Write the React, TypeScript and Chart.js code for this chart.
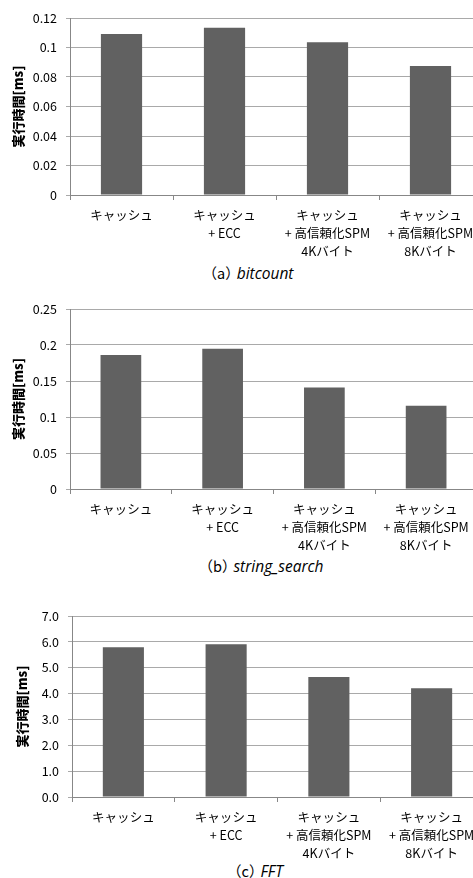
import React, { useEffect, useRef } from "react";
import { Chart, registerables } from "chart.js";

Chart.register(...registerables);

// Category labels (multi-line) shared by all three benchmarks
const categories: string[][] = [
  ["キャッシュ"],
  ["キャッシュ", "+ ECC"],
  ["キャッシュ", "+ 高信頼化SPM", "4Kバイト"],
  ["キャッシュ", "+ 高信頼化SPM", "8Kバイト"],
];

// Execution time [ms] per configuration
const bitcountTimes = [0.1092, 0.1134, 0.1035, 0.0875];
const stringSearchTimes = [0.186, 0.1949, 0.141, 0.1157];
const fftTimes = [5.79, 5.91, 4.64, 4.21];

// Y axis ranges: [max, step, decimals]
const bitcountAxis = [0.12, 0.02, -1];
const stringSearchAxis = [0.25, 0.05, -1];
const fftAxis = [7, 1, 1];

const yTitle = "実行時間[ms]";
const captionLetters = ["（a）", "（b）", "（c）"];
const captionNames = ["bitcount", "string_search", "FFT"];

const JP = '"Noto Sans CJK JP", "Noto Sans", sans-serif';
const BAR = "#616161";
const GRID = "#a9a9a9";
const AXIS = "#878787";

type PanelProps = {
  top: number;
  height: number;
  areaTop: number;
  areaBottom: number;
  areaLeft: number;
  areaRight: number;
  titlePad: number;
  values: number[];
  axis: number[];
  caption: number;
  captionX: number;
  captionY: number;
};

const CANVAS_W = 500;

function Panel(p: PanelProps) {
  const ref = useRef<HTMLCanvasElement | null>(null);

  useEffect(() => {
    if (!ref.current) return;
    const [max, step, decimals] = p.axis;
    const chart = new Chart(ref.current, {
      type: "bar",
      data: {
        labels: categories,
        datasets: [
          {
            data: p.values,
            backgroundColor: BAR,
            borderWidth: 0,
            categoryPercentage: 1,
            barPercentage: 0.4,
          },
        ],
      },
      options: {
        responsive: false,
        animation: false,
        devicePixelRatio: 1,
        layout: {
          padding: {
            top: p.areaTop,
            left: 0,
            right: CANVAS_W - p.areaRight,
            bottom: 0,
          },
        },
        plugins: {
          legend: { display: false },
          tooltip: { enabled: false },
          title: { display: false },
        },
        scales: {
          x: {
            offset: true,
            grid: {
              display: true,
              offset: true,
              drawOnChartArea: false,
              drawTicks: true,
              tickLength: 5,
              color: AXIS,
            },
            border: { display: true, color: AXIS, width: 1 },
            ticks: {
              color: "#000",
              font: { family: JP, size: 12.5, lineHeight: 1.45 },
              padding: 6,
              maxRotation: 0,
              minRotation: 0,
              autoSkip: false,
            },
            afterFit: (s: any) => {
              s.height = p.height - p.areaBottom;
            },
          },
          y: {
            min: 0,
            max,
            grid: {
              color: GRID,
              drawTicks: true,
              tickLength: 4,
              tickColor: GRID,
            },
            border: { display: true, color: AXIS, width: 1 },
            ticks: {
              stepSize: step,
              color: "#000",
              font: { family: JP, size: 12.5 },
              padding: 9,
              callback: (v: any) =>
                decimals >= 0
                  ? Number(v).toFixed(decimals)
                  : String(Number(Number(v).toFixed(4))),
            },
            title: {
              display: true,
              text: yTitle,
              color: "#000",
              font: { family: JP, size: 13, weight: "900" },
              padding: { top: p.titlePad, bottom: 0 },
            },
            afterFit: (s: any) => {
              s.width = p.areaLeft;
            },
          },
        },
      },
    });
    return () => chart.destroy();
  }, []);

  return (
    <>
      <canvas
        ref={ref}
        width={CANVAS_W}
        height={p.height}
        style={{
          position: "absolute",
          left: 0,
          top: p.top,
          width: CANVAS_W,
          height: p.height,
        }}
      />
      <div
        style={{
          position: "absolute",
          left: p.captionX,
          top: p.captionY - 11,
          height: 22,
          lineHeight: "22px",
          transform: "translateX(-50%)",
          whiteSpace: "nowrap",
          fontSize: 14.5,
          fontFamily: JP,
          color: "#000",
        }}
      >
        <span style={{ marginRight: -3 }}>{captionLetters[p.caption]}</span>
        <span
          style={{
            fontFamily: '"Open Sans", "Noto Sans", sans-serif',
            fontStyle: "italic",
            fontSize: 15.5,
          }}
        >
          {captionNames[p.caption]}
        </span>
      </div>
    </>
  );
}

export default function App() {
  return (
    <div
      style={{
        position: "fixed",
        left: 0,
        top: 0,
        width: 473,
        height: 878,
        overflow: "hidden",
        background: "#fff",
      }}
    >
      <Panel
        top={0}
        height={262}
        areaTop={18}
        areaBottom={195}
        areaLeft={70}
        areaRight={482}
        titlePad={10}
        values={bitcountTimes}
        axis={bitcountAxis}
        caption={0}
        captionX={248}
        captionY={273}
      />
      <Panel
        top={290}
        height={262}
        areaTop={19}
        areaBottom={199}
        areaLeft={70}
        areaRight={477}
        titlePad={10}
        values={stringSearchTimes}
        axis={stringSearchAxis}
        caption={1}
        captionX={261}
        captionY={566}
      />
      <Panel
        top={590}
        height={270}
        areaTop={26}
        areaBottom={207}
        areaLeft={72}
        areaRight={483}
        titlePad={14}
        values={fftTimes}
        axis={fftAxis}
        caption={2}
        captionX={255}
        captionY={871}
      />
    </div>
  );
}
